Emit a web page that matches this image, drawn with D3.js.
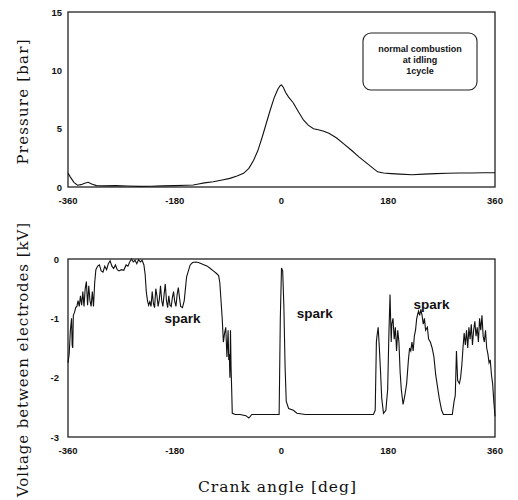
<!DOCTYPE html>
<html>
<head>
<meta charset="utf-8">
<script src="https://cdn.jsdelivr.net/npm/d3@7"></script>
<style>
  body { margin: 0; background: #fff; }
  text { fill: #111; }
</style>
</head>
<body>
<div id="chart"></div>
<script>
// Data: pressure trace (crank angle deg, bar)
var pAngle = [-360,-356,-350,-344,-338,-332,-326,-320,-312,-300,-280,-260,-240,-220,-200,-180,-160,-149,-140,-130,-115,-100,-87,-75,-64,-55,-47,-40,-33,-26,-19,-12,-6,-2,0,3,7,12,20,28,37,45,54,62,70,80,93,105,118,130,140,151,162,172,185,200,220,240,260,280,300,320,340,360];
var pValue = [1.2,0.85,0.4,0.15,0.2,0.32,0.4,0.25,0.12,0.1,0.12,0.08,0.05,0.06,0.1,0.12,0.15,0.17,0.25,0.35,0.45,0.6,0.74,0.95,1.17,1.6,2.3,3.1,4.2,5.4,6.6,7.7,8.4,8.7,8.74,8.55,8.1,7.7,7.2,6.5,5.75,5.3,5.0,4.9,4.8,4.6,4.2,3.7,3.15,2.6,2.2,1.75,1.3,1.2,1.15,1.1,1.05,1.1,1.15,1.18,1.2,1.2,1.22,1.22];

// Data: voltage between electrodes (crank angle deg, kV)
var vAngle = [-360,-358,-356,-354,-353,-352,-351,-349,-347,-345,-343,-341,-339,-337,-335,-333,-331,-329,-327,-325,-323,-321,-319,-317,-315,-313,-310,-307,-304,-301,-298,-295,-292,-289,-286,-283,-280,-277,-274,-270,-266,-262,-259,-256,-253,-250,-247,-244,-241,-238,-235,-232,-230,-228,-226,-224,-222,-220,-218,-216,-214,-212,-210,-208,-206,-204,-202,-200,-198,-196,-194,-192,-190,-188,-186,-184,-182,-180,-178,-176,-174,-172,-170,-167,-164,-162,-160,-157,-154,-150,-145,-140,-135,-130,-125,-120,-115,-110,-106,-104,-102,-100,-98,-96,-94,-92,-90,-89,-88,-87,-86,-85,-84,-83,-78,-70,-60,-55,-50,-40,-30,-20,-10,-4,-2,0,2,4,6,8,12,20,26,40,60,80,100,120,140,155,158,160,161,163,165,167,169,172,176,179,181,183,185,186,188,190,192,194,196,198,200,202,205,208,211,214,216,218,220,222,224,226,228,231,233,235,237,239,241,243,246,248,251,254,257,260,263,266,270,273,280,288,291,293,295,297,300,302,304,306,308,310,312,314,316,318,320,322,324,326,328,330,332,334,336,338,340,342,344,346,348,350,352,354,356,358,360];
var vValue = [-1.75,-1.6,-1.2,-1.0,-1.45,-1.5,-0.95,-0.9,-0.82,-0.8,-0.7,-0.8,-0.62,-0.78,-0.55,-0.8,-0.5,-0.38,-0.78,-0.45,-0.7,-0.8,-0.55,-0.8,-0.4,-0.18,-0.12,-0.1,-0.2,-0.22,-0.12,-0.18,-0.08,-0.03,-0.12,-0.16,-0.1,-0.18,-0.2,-0.18,-0.19,-0.1,-0.12,-0.05,0.0,-0.05,-0.02,-0.08,-0.01,-0.05,-0.02,-0.1,-0.25,-0.55,-0.7,-0.78,-0.72,-0.8,-0.55,-0.75,-0.82,-0.5,-0.62,-0.8,-0.68,-0.45,-0.7,-0.8,-0.6,-0.42,-0.7,-0.82,-0.62,-0.78,-0.8,-0.65,-0.55,-0.72,-0.8,-0.6,-0.48,-0.65,-0.8,-0.82,-0.7,-0.5,-0.3,-0.2,-0.1,-0.06,-0.05,-0.06,-0.08,-0.1,-0.12,-0.16,-0.2,-0.24,-0.28,-0.4,-0.7,-1.0,-1.4,-1.25,-1.15,-1.65,-1.2,-1.7,-1.6,-2.0,-1.2,-1.85,-2.2,-2.6,-2.62,-2.62,-2.64,-2.68,-2.62,-2.62,-2.62,-2.62,-2.62,-2.62,-1.0,-0.15,-0.2,-0.8,-1.8,-2.4,-2.52,-2.55,-2.6,-2.62,-2.62,-2.62,-2.62,-2.62,-2.62,-2.62,-2.55,-1.4,-1.3,-1.15,-1.5,-1.9,-2.35,-2.6,-2.55,-2.2,-1.3,-0.6,-1.4,-1.1,-1.0,-1.35,-1.15,-1.55,-1.2,-1.4,-1.9,-2.2,-2.45,-2.3,-2.1,-1.7,-1.5,-1.55,-1.4,-1.55,-1.3,-1.2,-1.0,-0.88,-0.95,-0.85,-0.95,-1.1,-1.0,-1.2,-1.15,-1.35,-1.4,-1.5,-1.65,-1.95,-2.15,-2.35,-2.55,-2.62,-2.62,-2.62,-2.4,-2.3,-1.55,-2.05,-2.1,-2.0,-1.8,-1.5,-1.25,-1.45,-1.2,-1.5,-1.15,-1.35,-1.1,-1.45,-1.2,-1.05,-1.3,-1.15,-1.4,-1.0,-1.2,-0.95,-1.3,-1.4,-1.2,-1.5,-1.6,-1.75,-1.7,-1.95,-2.1,-2.4,-2.65];

var xTicks = [-360,-180,0,180,360];
var pTicks = [0,5,10,15];
var vTicks = [-3,-2,-1,0];
var legendLines = ["normal combustion","at idling","1cycle"];
var sparkLabels = [{text:"spark", angle:-167, v:-0.86}, {text:"spark", angle:56, v:-0.78}, {text:"spark", angle:253, v:-0.63}];

var width = 518, height = 500;
var svg = d3.select("#chart").append("svg")
  .attr("width", width)
  .attr("height", height);

var x = d3.scaleLinear().domain([-360, 360]).range([68, 495]);
var yP = d3.scaleLinear().domain([0, 15]).range([187, 12]);
var yV = d3.scaleLinear().domain([-3, 0]).range([437, 259]);

var sans = "Liberation Sans, Arial, sans-serif";
var serif = "DejaVu Serif, Liberation Serif, serif";

// Frames
function frame(y) {
  svg.append("rect")
    .attr("x", x(-360)).attr("y", y.range()[1])
    .attr("width", x(360) - x(-360))
    .attr("height", y.range()[0] - y.range()[1])
    .attr("fill", "none")
    .attr("stroke", "#222")
    .attr("stroke-width", 1.3);
}
frame(yP);
frame(yV);

// Tick labels
function xLabels(y0) {
  svg.append("g").selectAll("text").data(xTicks).enter().append("text")
    .attr("x", function(d) { return x(d); })
    .attr("y", y0)
    .attr("text-anchor", "middle")
    .attr("font-family", sans)
    .attr("font-weight", "bold")
    .attr("font-size", "9.5px")
    .text(function(d) { return d; });
}
xLabels(204);
xLabels(454);

svg.append("g").selectAll("text").data(pTicks).enter().append("text")
  .attr("x", 62)
  .attr("y", function(d) { return yP(d) + 3.5; })
  .attr("text-anchor", "end")
  .attr("font-family", sans)
  .attr("font-weight", "bold")
  .attr("font-size", "9.5px")
  .text(function(d) { return d; });

svg.append("g").selectAll("text").data(vTicks).enter().append("text")
  .attr("x", 59)
  .attr("y", function(d) { return yV(d) + 3.5; })
  .attr("text-anchor", "end")
  .attr("font-family", sans)
  .attr("font-weight", "bold")
  .attr("font-size", "9.5px")
  .text(function(d) { return d; });

// Curves
var pLine = d3.line()
  .x(function(d, i) { return x(pAngle[i]); })
  .y(function(d) { return yP(d); });
svg.append("path")
  .attr("d", pLine(pValue))
  .attr("fill", "none")
  .attr("stroke", "#111")
  .attr("stroke-width", 1.1);

var vLine = d3.line()
  .x(function(d, i) { return x(vAngle[i]); })
  .y(function(d) { return yV(d); });
svg.append("path")
  .attr("d", vLine(vValue))
  .attr("fill", "none")
  .attr("stroke", "#111")
  .attr("stroke-width", 1.1);

// Legend box
svg.append("rect")
  .attr("x", 363).attr("y", 33)
  .attr("width", 114).attr("height", 57)
  .attr("rx", 8).attr("ry", 8)
  .attr("fill", "none")
  .attr("stroke", "#222")
  .attr("stroke-width", 1.1);
svg.append("g").selectAll("text").data(legendLines).enter().append("text")
  .attr("x", 420)
  .attr("y", function(d, i) { return 52 + i * 11; })
  .attr("text-anchor", "middle")
  .attr("font-family", sans)
  .attr("font-weight", "bold")
  .attr("font-size", "9px")
  .text(function(d) { return d; });

// Spark annotations
svg.append("g").selectAll("text").data(sparkLabels).enter().append("text")
  .attr("x", function(d) { return x(d.angle); })
  .attr("y", function(d) { return yV(d.v) + 13; })
  .attr("text-anchor", "middle")
  .attr("font-family", sans)
  .attr("font-weight", "bold")
  .attr("font-size", "13.5px")
  .text(function(d) { return d.text; });

// Axis titles
svg.append("text")
  .attr("transform", "translate(28,102) rotate(-90)")
  .attr("text-anchor", "middle")
  .attr("font-family", serif)
  .attr("font-size", "15px")
  .attr("textLength", 125)
  .attr("lengthAdjust", "spacing")
  .text("Pressure [bar]");

svg.append("text")
  .attr("transform", "translate(28,360) rotate(-90)")
  .attr("text-anchor", "middle")
  .attr("font-family", serif)
  .attr("font-size", "15px")
  .attr("textLength", 274)
  .attr("lengthAdjust", "spacing")
  .text("Voltage between electrodes [kV]");

svg.append("text")
  .attr("x", 277)
  .attr("y", 492)
  .attr("text-anchor", "middle")
  .attr("font-family", serif)
  .attr("font-size", "15.5px")
  .attr("textLength", 158)
  .attr("lengthAdjust", "spacing")
  .text("Crank angle [deg]");
</script>
</body>
</html>
